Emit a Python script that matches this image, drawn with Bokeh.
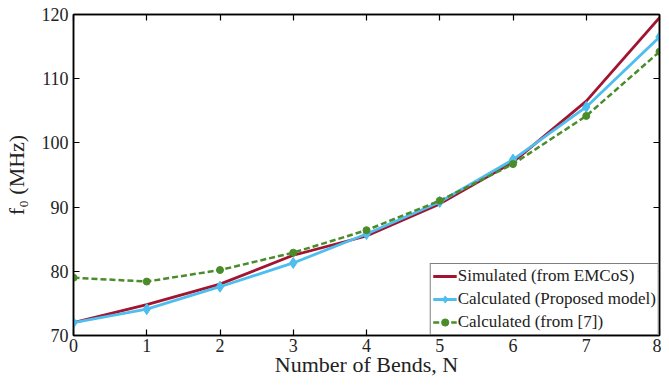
from bokeh.plotting import figure
from bokeh.models import LinearAxis, FixedTicker, Range1d
from bokeh.embed import file_html
from bokeh.resources import INLINE

bends = [0, 1, 2, 3, 4, 5, 6, 7, 8]
simulated = [72.0, 74.8, 78.0, 82.5, 85.5, 90.5, 97.0, 106.5, 119.5]
proposed = [72.0, 74.1, 77.6, 81.3, 85.8, 90.8, 97.4, 105.6, 116.5]
ref7 = [79.0, 78.4, 80.2, 82.9, 86.4, 91.0, 96.7, 104.2, 114.2]
x_ticks = [0, 1, 2, 3, 4, 5, 6, 7, 8]
y_ticks = [70, 80, 90, 100, 110, 120]

FONT = "'Liberation Serif'"

p = figure(width=661, height=379, output_backend="svg", toolbar_location=None,
           x_range=Range1d(0, 8), y_range=Range1d(70, 120),
           min_border_left=68, min_border_right=2, min_border_top=14, min_border_bottom=36)
p.xgrid.visible = False
p.ygrid.visible = False
p.outline_line_color = "black"
p.outline_line_width = 1.5
p.background_fill_color = "white"

def style_axis(ax, labels=True):
    ax.axis_line_color = "black"
    ax.axis_line_width = 1.5
    ax.major_tick_in = 6
    ax.major_tick_out = 0
    ax.minor_tick_line_color = None
    ax.major_tick_line_color = "black"
    ax.major_tick_line_width = 1.2
    ax.major_label_text_font = FONT
    ax.major_label_text_font_size = "18px"
    ax.major_label_text_color = "#222222" if labels else None
    ax.axis_label_text_font = FONT
    ax.axis_label_text_font_style = "normal"
    ax.axis_label_text_font_size = "22px"
    ax.axis_label_text_color = "#222222"

p.xaxis.ticker = FixedTicker(ticks=x_ticks)
p.yaxis.ticker = FixedTicker(ticks=y_ticks)
for ax in p.xaxis + p.yaxis:
    style_axis(ax)
p.xaxis.axis_label = "Number of Bends, N"
p.yaxis.axis_label = "f₀ (MHz)"
p.xaxis.major_label_standoff = 3
p.xaxis.axis_label_standoff = -3
p.yaxis.major_label_standoff = 5
p.yaxis.axis_label_standoff = 10

top = LinearAxis(ticker=FixedTicker(ticks=x_ticks))
style_axis(top, labels=False)
p.add_layout(top, "above")
right = LinearAxis(ticker=FixedTicker(ticks=y_ticks))
style_axis(right, labels=False)
p.add_layout(right, "right")
for ax in (top, right):
    ax.major_label_text_font_size = "0px"
    ax.major_label_standoff = 0

red = "#A2142F"
blue = "#4DBEEE"
green = "#4A8C2A"

p.line(bends, simulated, line_color=red, line_width=2.8, legend_label="Simulated (from EMCoS)")
p.line(bends, proposed, line_color=blue, line_width=2.8, legend_label="Calculated (Proposed model)")
p.scatter(bends, proposed, marker="diamond", size=11, fill_color=blue, line_color=blue,
          legend_label="Calculated (Proposed model)")
p.line(bends, ref7, line_color=green, line_width=2.5, line_dash="6 3",
       legend_label="Calculated (from [7])")
p.scatter(bends, ref7, marker="circle", size=7, fill_color=green, line_color=green,
          legend_label="Calculated (from [7])")

lg = p.legend[0]
lg.location = "bottom_right"
lg.border_line_color = "black"
lg.border_line_width = 1
lg.background_fill_alpha = 1
lg.label_text_font = FONT
lg.label_text_font_size = "17px"
lg.label_text_color = "#222222"
lg.glyph_width = 24
lg.glyph_height = 18
lg.label_standoff = 1
lg.spacing = 3
lg.padding = 2
lg.margin = 0
lg.label_height = 18

open("out.html", "w").write(file_html(p, INLINE))
